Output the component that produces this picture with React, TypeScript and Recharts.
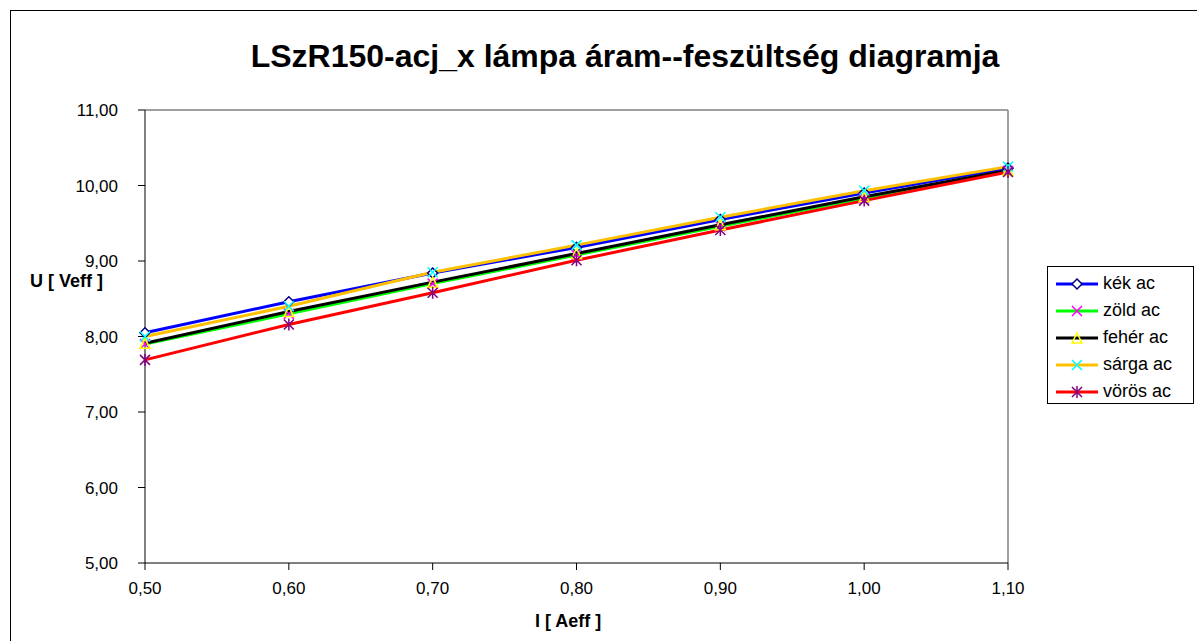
import React from 'react';
import { LineChart, Line, XAxis, YAxis, ReferenceLine } from 'recharts';

const currents = [0.5, 0.6, 0.7, 0.8, 0.9, 1.0, 1.1];
const kek = [8.05, 8.46, 8.84, 9.18, 9.55, 9.9, 10.23];
const zold = [7.9, 8.3, 8.7, 9.08, 9.46, 9.83, 10.19];
const feher = [7.91, 8.33, 8.72, 9.1, 9.48, 9.85, 10.2];
const sarga = [8.0, 8.4, 8.85, 9.21, 9.58, 9.93, 10.25];
const voros = [7.69, 8.16, 8.58, 9.01, 9.41, 9.8, 10.18];

const xTicks = [0.5, 0.6, 0.7, 0.8, 0.9, 1.0, 1.1];
const yTicks = [5, 6, 7, 8, 9, 10, 11];

const data = currents.map((i, k) => ({
  i,
  kek: kek[k],
  zold: zold[k],
  feher: feher[k],
  sarga: sarga[k],
  voros: voros[k],
}));

const FONT = '"Liberation Sans", Arial, sans-serif';

type Shape = 'diamond' | 'x' | 'triangle' | 'star';

function marker(shape: Shape, color: string, cx: number, cy: number, key?: string) {
  const r = 5;
  if (shape === 'diamond') {
    return (
      <path key={key} d={`M${cx},${cy - r} L${cx + r},${cy} L${cx},${cy + r} L${cx - r},${cy} Z`}
        fill="#fff" stroke={color} strokeWidth={1.5} />
    );
  }
  if (shape === 'triangle') {
    return (
      <path key={key} d={`M${cx},${cy - r} L${cx + r},${cy + r} L${cx - r},${cy + r} Z`}
        fill="none" stroke={color} strokeWidth={1.5} />
    );
  }
  if (shape === 'x') {
    return (
      <path key={key} d={`M${cx - r},${cy - r} L${cx + r},${cy + r} M${cx + r},${cy - r} L${cx - r},${cy + r}`}
        stroke={color} strokeWidth={1.5} />
    );
  }
  return (
    <path key={key}
      d={`M${cx - r},${cy - r} L${cx + r},${cy + r} M${cx + r},${cy - r} L${cx - r},${cy + r} M${cx},${cy - r - 1} L${cx},${cy + r + 1}`}
      stroke={color} strokeWidth={1.5} />
  );
}

const series = [
  { key: 'kek', name: 'kék ac', line: '#0000FF', mark: '#000080', shape: 'diamond' as Shape },
  { key: 'zold', name: 'zöld ac', line: '#00FF00', mark: '#FF00FF', shape: 'x' as Shape },
  { key: 'feher', name: 'fehér ac', line: '#000000', mark: '#FFFF00', shape: 'triangle' as Shape },
  { key: 'sarga', name: 'sárga ac', line: '#FFC000', mark: '#00FFFF', shape: 'x' as Shape },
  { key: 'voros', name: 'vörös ac', line: '#FF0000', mark: '#800080', shape: 'star' as Shape },
];

const fmt = (v: number) => v.toFixed(2).replace('.', ',');

function LegendBox() {
  return (
    <div
      style={{
        position: 'absolute',
        left: 1047,
        top: 266,
        width: 147,
        height: 138,
        border: '1px solid #000',
        background: '#fff',
        padding: '3px 0 0 8px',
        fontFamily: FONT,
        fontSize: 18,
        boxSizing: 'border-box',
      }}
    >
      {series.map((s) => (
        <div key={s.key} style={{ display: 'flex', alignItems: 'center', height: 27, whiteSpace: 'nowrap' }}>
          <svg width={42} height={16} style={{ marginRight: 5 }}>
            <line x1={0} y1={8} x2={42} y2={8} stroke={s.line} strokeWidth={3} />
            {marker(s.shape, s.mark, 21, 8)}
          </svg>
          <span>{s.name}</span>
        </div>
      ))}
    </div>
  );
}

export default function App() {
  return (
    <div style={{ position: 'absolute', left: 0, top: 0, width: 1197, height: 641, background: '#fff', overflow: 'hidden' }}>
      <div
        style={{
          position: 'absolute',
          left: 10,
          top: 10,
          width: 1200,
          height: 700,
          border: '1.5px solid #000',
        }}
      />
      <div
        style={{
          position: 'absolute',
          left: 0,
          width: 1250,
          top: 38,
          textAlign: 'center',
          fontFamily: FONT,
          fontWeight: 'bold',
          fontSize: 32,
        }}
      >
        LSzR150-acj_x lámpa áram--feszültség diagramja
      </div>
      <div
        style={{
          position: 'absolute',
          left: 30,
          top: 271,
          fontFamily: FONT,
          fontWeight: 'bold',
          fontSize: 18,
        }}
      >
        U [ Veff ]
      </div>
      <div
        style={{
          position: 'absolute',
          left: 535,
          top: 611,
          fontFamily: FONT,
          fontWeight: 'bold',
          fontSize: 18,
        }}
      >
        I [ Aeff ]
      </div>
      <div style={{ position: 'absolute', left: 0, top: 0 }}>
        <LineChart
          width={1197}
          height={641}
          data={data}
          margin={{ top: 110, right: 189, bottom: 38, left: 65 }}
        >
          <XAxis
            dataKey="i"
            type="number"
            domain={[0.5, 1.1]}
            ticks={xTicks}
            tickFormatter={fmt}
            stroke="#000"
            tick={{ fill: '#000', fontFamily: FONT, fontSize: 17 }}
            tickSize={7}
            tickMargin={12}
            height={40}
            interval={0}
          />
          <YAxis
            type="number"
            domain={[5, 11]}
            ticks={yTicks}
            tickFormatter={fmt}
            stroke="#000"
            tick={{ fill: '#000', fontFamily: FONT, fontSize: 17 }}
            tickSize={7}
            tickMargin={20}
            width={80}
            interval={0}
          />
          <ReferenceLine y={11} stroke="#808080" strokeWidth={1.5} />
          <ReferenceLine x={1.1} stroke="#808080" strokeWidth={1.5} />
          {series.map((s) => (
            <Line
              key={s.key}
              dataKey={s.key}
              name={s.name}
              type="linear"
              stroke={s.line}
              strokeWidth={3}
              isAnimationActive={false}
              dot={(p: any) => marker(s.shape, s.mark, p.cx, p.cy, `${s.key}-${p.index}`)}
              activeDot={false}
            />
          ))}
        </LineChart>
      </div>
      <LegendBox />
    </div>
  );
}
